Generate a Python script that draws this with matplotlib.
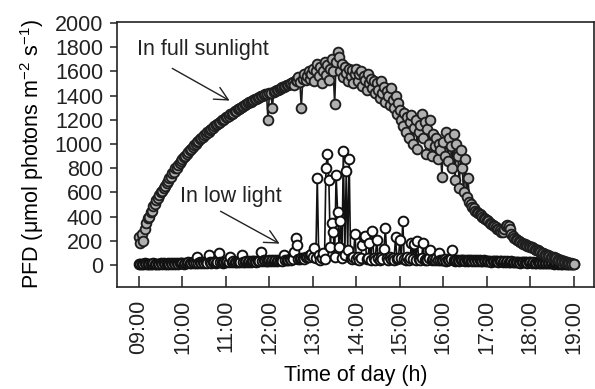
import numpy as np
import matplotlib
matplotlib.use("Agg")
import matplotlib.pyplot as plt

plt.rcParams.update({
    "font.family": "Liberation Sans", "font.size": 15.5,
    "mathtext.fontset": "custom", "mathtext.rm": "Liberation Sans",
    "mathtext.it": "Liberation Sans:italic", "mathtext.bf": "Liberation Sans:bold",
    "axes.linewidth": 1.2, "axes.edgecolor": "#222222",
    "text.color": "#222222", "xtick.color": "#222222", "ytick.color": "#222222",
})

# sampling grid: minutes after 09:00, one reading every 2 min
minutes = np.arange(0, 601, 2)

# PFD in full sunlight (umol photons m-2 s-1), one row per half hour
full_sun = [
    230, 180, 260, 200, 300, 350, 390, 400, 440, 450, 490, 500, 540, 550, 580,
    600, 610, 640, 650, 680, 690, 720, 730, 760, 770, 800, 805, 830, 845, 860,
    875, 890, 900, 920, 930, 950, 960, 975, 990, 1000, 1015, 1025, 1040, 1050, 1060,
    1075, 1080, 1095, 1100, 1115, 1125, 1135, 1145, 1155, 1165, 1175, 1185, 1195, 1200, 1210,
    1220, 1225, 1235, 1245, 1250, 1260, 1270, 1275, 1285, 1290, 1300, 1305, 1315, 1320, 1330,
    1335, 1345, 1350, 1355, 1365, 1370, 1375, 1380, 1390, 1395, 1400, 1405, 1410, 1415, 1200,
    1420, 1425, 1300, 1430, 1440, 1445, 1450, 1455, 1460, 1470, 1475, 1480, 1485, 1490, 1495,
    1500, 1510, 1490, 1530, 1520, 1550, 1510, 1300, 1540, 1580, 1530, 1560, 1600, 1540, 1580,
    1620, 1520, 1600, 1660, 1560, 1640, 1500, 1600, 1680, 1570, 1650, 1530, 1620, 1700, 1600,
    1330, 1680, 1760, 1720, 1600, 1660, 1550, 1640, 1590, 1520, 1620, 1560, 1610, 1500, 1580,
    1620, 1520, 1580, 1600, 1480, 1560, 1530, 1450, 1580, 1500, 1540, 1460, 1520, 1420, 1500,
    1450, 1380, 1520, 1420, 1470, 1350, 1440, 1400, 1320, 1460, 1360, 1300, 1400, 1250, 1340,
    1280, 1200, 1150, 1260, 1100, 1220, 1050, 1180, 1240, 1000, 1130, 1200, 960, 1100, 1160,
    1250, 1050, 1180, 920, 1120, 1000, 1200, 900, 1080, 980, 1050, 880, 1000, 950, 730,
    1020, 900, 1100, 860, 1050, 980, 800, 1080, 700, 1000, 900, 640, 950, 800, 600,
    880, 560, 720, 520, 500, 480, 470, 450, 440, 430, 420, 410, 400, 390, 380,
    375, 365, 350, 340, 330, 320, 310, 300, 295, 285, 275, 270, 300, 320, 330,
    325, 300, 260, 240, 225, 215, 205, 200, 190, 185, 175, 170, 165, 160, 155,
    150, 145, 140, 132, 125, 120, 112, 105, 100, 95, 90, 85, 80, 75, 70,
    66, 62, 58, 54, 50, 45, 40, 36, 32, 28, 24, 20, 17, 14, 12,
    10,
]

# PFD in low light (understorey), one row per half hour
low_light = [
    10, 5, 12, 6, 14, 8, 10, 4, 12, 8, 14, 6, 10, 12, 8,
    14, 8, 16, 10, 12, 18, 10, 14, 8, 16, 12, 18, 10, 14, 16,
    18, 12, 20, 16, 22, 14, 20, 24, 16, 20, 70, 18, 22, 16, 24,
    20, 26, 18, 85, 24, 20, 26, 22, 18, 24, 95, 22, 28, 20, 26,
    24, 30, 22, 70, 26, 32, 24, 28, 22, 30, 26, 85, 28, 24, 32,
    28, 34, 26, 32, 30, 36, 28, 34, 30, 110, 32, 38, 30, 36, 34,
    38, 32, 40, 36, 42, 34, 40, 38, 44, 36, 85, 40, 44, 38, 46,
    42, 48, 110, 220, 165, 50, 46, 54, 58, 52, 62, 70, 66, 80, 90,
    70, 140, 60, 720, 80, 40, 60, 100, 50, 800, 920, 700, 150, 345, 275,
    70, 745, 440, 150, 360, 60, 945, 80, 780, 120, 880, 60, 50, 70, 260,
    50, 70, 40, 60, 165, 230, 240, 50, 60, 180, 45, 280, 60, 40, 205,
    60, 45, 70, 50, 130, 305, 60, 40, 70, 50, 60, 45, 230, 50, 60,
    205, 60, 365, 50, 45, 70, 40, 60, 180, 50, 175, 45, 195, 50, 40,
    55, 180, 45, 50, 40, 60, 125, 45, 50, 40, 55, 45, 100, 40, 45,
    40, 50, 35, 45, 40, 50, 125, 40, 35, 45, 40, 35, 45, 38, 42,
    36, 42, 34, 40, 38, 32, 40, 36, 42, 34, 38, 36, 32, 40, 34,
    36, 30, 34, 28, 36, 32, 30, 34, 28, 32, 30, 26, 34, 28, 30,
    28, 24, 30, 26, 22, 28, 24, 26, 20, 28, 22, 26, 24, 20, 26,
    22, 18, 24, 20, 16, 22, 18, 20, 14, 20, 18, 16, 20, 14, 18,
    16, 12, 16, 14, 10, 14, 12, 10, 14, 10, 12, 8, 12, 10, 10,
    10,
]

hour_ticks = list(range(9, 20))
hour_labels = [f"{h:02d}:00" for h in hour_ticks]

hours = 9 + minutes / 60.0

fig = plt.figure(figsize=(5.95, 3.89), dpi=100)
ax = fig.add_axes([0.1966, 0.2622, 0.8014, 0.6812])

ax.plot(hours, low_light, "-o", color="#111111", lw=1.2, ms=7.0,
        mfc="white", mec="#111111", mew=1.4, zorder=2)
ax.plot(hours, full_sun, "-o", color="#1a1a1a", lw=1.2, ms=7.0,
        mfc="#b0b0b0", mec="#1e1e1e", mew=1.35, zorder=3)

ax.set_xlim(8.494, 19.46)
ax.set_ylim(-182, 2008)
ax.set_yticks(range(0, 2001, 200))
ax.set_xticks(hour_ticks)
ax.set_xticklabels(hour_labels, rotation=90)
ax.tick_params(axis="y", direction="out", length=5, width=1.1, pad=5)
ax.tick_params(axis="x", direction="in", length=8, width=1.1, pad=9)

ax.set_xlabel("Time of day (h)", labelpad=8)
ax.set_ylabel(r"PFD ($\mathregular{\mu}$mol photons m$^{-2}$ s$^{-1}$)", labelpad=6)

ax.text(8.95, 1777, "In full sunlight", ha="left", va="center")
ax.annotate("", xy=(11.14, 1347), xytext=(9.71, 1636),
            arrowprops=dict(arrowstyle="->", lw=1.0, color="#222222", mutation_scale=24))
ax.text(9.94, 570, "In low light", ha="left", va="center")
ax.annotate("", xy=(12.29, 165), xytext=(10.82, 455),
            arrowprops=dict(arrowstyle="->", lw=1.0, color="#222222", mutation_scale=24))

fig.savefig("out.png", dpi=100)
